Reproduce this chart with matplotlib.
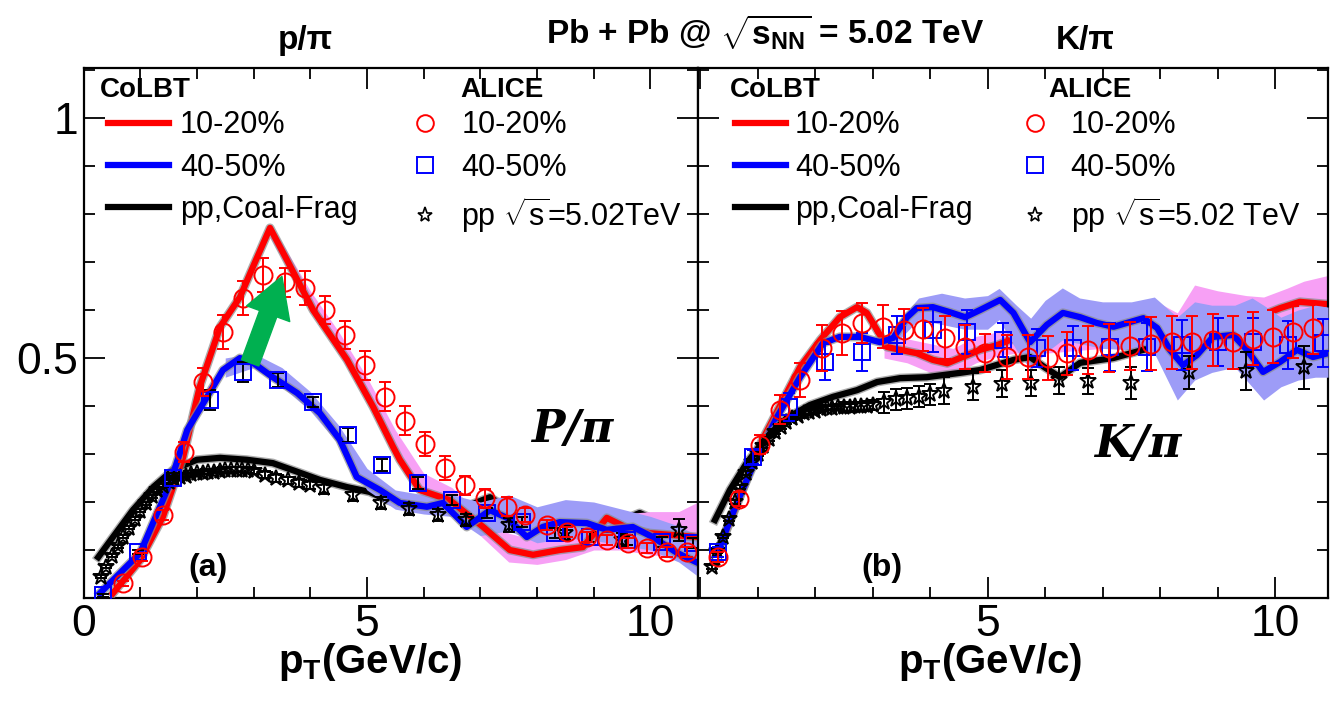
import numpy as np
import matplotlib
matplotlib.use("Agg")
import matplotlib.pyplot as plt
from matplotlib.lines import Line2D
import matplotlib.patheffects as pe

SANS = "Liberation Sans"
plt.rcParams["font.family"] = [SANS, "DejaVu Sans"]
plt.rcParams["mathtext.fontset"] = "custom"
plt.rcParams["mathtext.rm"] = SANS
plt.rcParams["mathtext.bf"] = SANS + ":bold"
plt.rcParams["mathtext.it"] = SANS + ":italic"

RED = "#ff0000"
BLUE = "#0000ff"
PINK = "#f7a0f5"
LBLUE = "#9d9cf7"
GREEN = "#00b050"

# ---------------- panel (a): p/pi ----------------
# CoLBT curves
pa_red_x = [0.52, 1.0, 1.40, 1.76, 2.05, 2.41, 2.76, 2.99, 3.29, 3.59, 4.05, 4.65, 5.11, 5.46,
            5.58, 5.93, 6.46, 7.05, 7.52, 7.93, 8.40, 8.81, 9.23, 9.59, 9.99, 10.84]
pa_red_y = [0.010, 0.079, 0.169, 0.294, 0.44, 0.565, 0.627, 0.69, 0.771, 0.704, 0.60, 0.496, 0.398,
            0.315, 0.288, 0.225, 0.204, 0.148, 0.10, 0.09, 0.10, 0.106, 0.167, 0.146, 0.135, 0.127]
pa_blue_x = [0.29, 1.0, 1.53, 1.83, 2.18, 2.46, 2.76, 2.99, 3.34, 3.77, 4.17, 4.52, 4.82, 5.23, 5.58,
             6.06, 6.34, 6.76, 7.17, 7.47, 7.82, 8.10, 8.40, 8.88, 9.23, 9.69, 10.04, 10.47, 10.84]
pa_blue_y = [0.01, 0.094, 0.24, 0.35, 0.419, 0.475, 0.50, 0.49, 0.46, 0.427, 0.385, 0.33, 0.252,
             0.225, 0.198, 0.19, 0.198, 0.148, 0.183, 0.167, 0.127, 0.148, 0.158, 0.156, 0.142,
             0.148, 0.127, 0.094, 0.073]
pa_pp_x = [0.26, 0.52, 0.87, 1.23, 1.58, 2.0, 2.41, 2.88, 3.34, 3.77, 4.17, 4.65, 5.05, 5.35, 5.76,
           6.29, 6.82, 7.17, 7.52, 8.05, 8.58, 9.29, 9.81, 10.17, 10.84]
pa_pp_y = [0.085, 0.127, 0.183, 0.231, 0.267, 0.288, 0.292, 0.288, 0.281, 0.263, 0.246, 0.231, 0.221,
           0.204, 0.19, 0.183, 0.194, 0.21, 0.183, 0.163, 0.152, 0.152, 0.177, 0.158, 0.158]

# uncertainty bands
pa_pink_x = [3.3, 4.0, 4.5, 5.0, 5.5, 6.0, 6.5, 7.0, 7.5, 8.0, 8.5, 9.0, 9.5, 10.0, 10.5, 10.84]
pa_pink_lo = [0.75, 0.60, 0.51, 0.41, 0.30, 0.205, 0.185, 0.13, 0.075, 0.07, 0.08, 0.10, 0.10, 0.09, 0.085, 0.08]
pa_pink_hi = [0.78, 0.64, 0.555, 0.46, 0.35, 0.26, 0.23, 0.175, 0.135, 0.12, 0.14, 0.19, 0.175, 0.18, 0.18, 0.20]
pa_lblue_x = [2.5, 3.0, 3.5, 4.0, 4.5, 5.0, 5.5, 6.0, 6.5, 7.0, 7.5, 8.0, 8.5, 9.0, 9.5, 10.0, 10.5, 10.84]
pa_lblue_lo = [0.46, 0.48, 0.44, 0.39, 0.32, 0.225, 0.185, 0.175, 0.17, 0.13, 0.14, 0.115, 0.125, 0.12, 0.11, 0.10, 0.075, 0.045]
pa_lblue_hi = [0.50, 0.51, 0.48, 0.43, 0.36, 0.27, 0.225, 0.215, 0.215, 0.20, 0.215, 0.19, 0.205, 0.20, 0.185, 0.17, 0.15, 0.13]

# ALICE data
pa_c_x = [0.70, 1.03, 1.40, 1.77, 2.11, 2.46, 2.81, 3.17, 3.55, 3.91, 4.26, 4.61, 4.96, 5.32, 5.67,
          6.02, 6.38, 6.73, 7.08, 7.47, 7.79, 8.17, 8.53, 8.88, 9.23, 9.60, 9.94, 10.29, 10.64]
pa_c_y = [0.031, 0.085, 0.173, 0.304, 0.45, 0.554, 0.625, 0.673, 0.658, 0.646, 0.60, 0.548, 0.485,
          0.419, 0.369, 0.321, 0.271, 0.235, 0.208, 0.19, 0.173, 0.152, 0.1375, 0.127, 0.121, 0.115,
          0.104, 0.096, 0.096]
pa_c_e = [0.005, 0.008, 0.01, 0.02, 0.03, 0.035, 0.035, 0.035, 0.03, 0.035, 0.03, 0.03, 0.03, 0.03,
          0.03, 0.025, 0.025, 0.02, 0.02, 0.02, 0.015, 0.01, 0.01, 0.01, 0.01, 0.01, 0.01, 0.01, 0.01]
pa_s_x = [0.34, 0.96, 1.58, 2.23, 2.81, 3.43, 4.05, 4.66, 5.26, 5.90, 6.50, 7.12, 7.73, 8.32, 8.93,
          9.59, 10.20, 10.75]
pa_s_y = [0.006, 0.096, 0.25, 0.4125, 0.471, 0.454, 0.408, 0.34, 0.277, 0.24, 0.204, 0.177, 0.158,
          0.135, 0.127, 0.121, 0.117, 0.115]
pa_s_e = [0.003, 0.005, 0.01, 0.02, 0.02, 0.015, 0.01, 0.015, 0.012, 0.012, 0.01, 0.01, 0.01, 0.01,
          0.01, 0.01, 0.01, 0.01]
pa_st_x = [0.3, 0.4, 0.5, 0.6, 0.7, 0.8, 0.9, 1.0, 1.1, 1.2, 1.3, 1.4, 1.5, 1.6, 1.7, 1.8, 1.9, 2.0,
           2.1, 2.2, 2.3, 2.4, 2.5, 2.6, 2.7, 2.8, 2.9, 3.0, 3.2, 3.4, 3.6, 3.8, 4.0, 4.25, 4.75,
           5.25, 5.75, 6.25, 6.75, 7.5, 8.5, 9.5, 10.5]
pa_st_y = [0.044, 0.065, 0.088, 0.108, 0.128, 0.146, 0.165, 0.182, 0.197, 0.212, 0.224, 0.234, 0.242,
           0.248, 0.252, 0.255, 0.258, 0.26, 0.261, 0.262, 0.263, 0.265, 0.266, 0.267, 0.267, 0.267,
           0.266, 0.264, 0.257, 0.25, 0.245, 0.240, 0.236, 0.229, 0.215, 0.198, 0.185, 0.173, 0.162,
           0.152, 0.135, 0.121, 0.142]
pa_st_e = [0.003] * 22 + [0.005] * 6 + [0.008] * 5 + [0.012] * 6 + [0.015] * 3 + [0.023]

# ---------------- panel (b): K/pi ----------------
pb_red_x = [0.3, 0.68, 1.04, 1.39, 1.74, 2.09, 2.43, 2.73, 2.9, 3.08, 3.25, 3.48, 3.77, 4.05, 4.30,
            4.52, 4.87, 5.17, 5.39, 6.0, 6.6, 7.2, 7.8, 8.3, 8.57, 8.82, 9.04, 9.39, 9.69, 10.09,
            10.43, 10.92]
pb_red_y = [0.094, 0.206, 0.319, 0.40, 0.481, 0.5375, 0.585, 0.606, 0.594, 0.558, 0.523, 0.517, 0.51,
            0.496, 0.489, 0.50, 0.517, 0.527, 0.5375, 0.545, 0.55, 0.555, 0.56, 0.565, 0.579, 0.60,
            0.59, 0.573, 0.585, 0.604, 0.617, 0.612]
pb_blue_x = [0.3, 0.64, 0.99, 1.34, 1.74, 2.14, 2.43, 2.78, 3.13, 3.36, 3.60, 3.77, 4.05, 4.33, 4.61,
             4.87, 5.22, 5.45, 5.74, 6.03, 6.31, 6.61, 6.90, 7.19, 7.48, 7.71, 7.95, 8.17, 8.40, 8.64,
             8.92, 9.27, 9.51, 9.79, 10.09, 10.38, 10.66, 10.92]
pb_blue_y = [0.094, 0.198, 0.294, 0.377, 0.46, 0.531, 0.544, 0.544, 0.533, 0.542, 0.585, 0.604,
             0.606, 0.596, 0.585, 0.60, 0.621, 0.594, 0.533, 0.569, 0.594, 0.585, 0.573, 0.565,
             0.575, 0.583, 0.5625, 0.517, 0.485, 0.506, 0.544, 0.548, 0.517, 0.471, 0.492, 0.517,
             0.502, 0.51]
pb_pp_x = [0.26, 0.52, 0.81, 1.16, 1.51, 1.91, 2.31, 2.73, 3.08, 3.48, 3.94, 4.52, 4.87, 5.45, 5.74,
           6.0, 6.26, 6.61, 7.19, 7.71]
pb_pp_y = [0.1625, 0.225, 0.281, 0.335, 0.375, 0.402, 0.419, 0.433, 0.45, 0.458, 0.46, 0.469, 0.475,
           0.496, 0.502, 0.48, 0.46, 0.49, 0.50, 0.517]

pb_pink_x = [3.2, 3.6, 4.0, 4.4, 4.8, 5.2, 5.5, 6.0, 6.5, 7.0, 7.5, 7.9, 8.3, 8.6, 9.0, 9.5, 9.8,
             10.2, 10.5, 10.92]
pb_pink_lo = [0.50, 0.49, 0.47, 0.465, 0.49, 0.505, 0.51, 0.51, 0.515, 0.52, 0.52, 0.52, 0.52, 0.53,
              0.53, 0.52, 0.53, 0.54, 0.55, 0.55]
pb_pink_hi = [0.54, 0.54, 0.53, 0.52, 0.545, 0.555, 0.565, 0.575, 0.585, 0.60, 0.61, 0.62, 0.594,
              0.652, 0.64, 0.63, 0.627, 0.645, 0.66, 0.672]
pb_lblue_x = [3.4, 3.8, 4.2, 4.6, 5.0, 5.2, 5.5, 5.75, 6.0, 6.3, 6.6, 7.0, 7.5, 7.9, 8.3, 8.6, 8.9,
              9.3, 9.6, 9.8, 10.1, 10.4, 10.7, 10.92]
pb_lblue_lo = [0.53, 0.58, 0.57, 0.56, 0.56, 0.58, 0.517, 0.475, 0.51, 0.5375, 0.53, 0.52, 0.517,
               0.51, 0.4125, 0.454, 0.47, 0.481, 0.44, 0.4125, 0.44, 0.454, 0.46, 0.46]
pb_lblue_hi = [0.57, 0.625, 0.635, 0.625, 0.63, 0.645, 0.61, 0.583, 0.62, 0.646, 0.625, 0.617, 0.617,
               0.627, 0.585, 0.617, 0.61, 0.61, 0.625, 0.61, 0.585, 0.60, 0.61, 0.606]

pb_c_x = [0.31, 0.68, 1.04, 1.39, 1.74, 2.12, 2.47, 2.82, 3.18, 3.55, 3.88, 4.26, 4.61, 4.96, 5.34,
          5.70, 6.05, 6.38, 6.75, 7.12, 7.48, 7.85, 8.21, 8.56, 8.92, 9.27, 9.62, 9.97, 10.31, 10.66]
pb_c_y = [0.085, 0.206, 0.319, 0.392, 0.454, 0.521, 0.552, 0.573, 0.565, 0.558, 0.56, 0.542, 0.523,
          0.51, 0.502, 0.502, 0.50, 0.51, 0.517, 0.52, 0.525, 0.53, 0.533, 0.533, 0.5375, 0.533,
          0.54, 0.544, 0.554, 0.5625]
pb_c_e = [0.01, 0.015, 0.02, 0.03, 0.035, 0.048, 0.045, 0.042, 0.045, 0.045, 0.045, 0.045, 0.045,
          0.04, 0.045, 0.045, 0.045, 0.045, 0.05, 0.05, 0.05, 0.055, 0.055, 0.055, 0.055, 0.055,
          0.055, 0.055, 0.055, 0.055]
pb_s_x = [0.31, 0.92, 1.55, 2.17, 2.82, 3.42, 4.05, 4.64, 5.27, 5.86, 6.49, 7.13, 7.77, 8.38, 9.01,
          9.62, 10.23, 10.84]
pb_s_y = [0.096, 0.294, 0.398, 0.492, 0.5125, 0.548, 0.558, 0.554, 0.5375, 0.521, 0.521, 0.523,
          0.523, 0.527, 0.533, 0.533, 0.527, 0.531]
pb_s_e = [0.01, 0.015, 0.03, 0.038, 0.04, 0.04, 0.045, 0.045, 0.035, 0.04, 0.045, 0.05, 0.05, 0.052,
          0.05, 0.05, 0.05, 0.05]
pb_st_x = [0.2, 0.3, 0.4, 0.5, 0.6, 0.7, 0.8, 0.9, 1.0, 1.1, 1.2, 1.3, 1.4, 1.5, 1.6, 1.7, 1.8, 1.9,
           2.0, 2.1, 2.2, 2.3, 2.4, 2.5, 2.6, 2.7, 2.8, 2.9, 3.0, 3.2, 3.4, 3.6, 3.8, 4.0, 4.25,
           4.75, 5.25, 5.75, 6.25, 6.75, 7.5, 8.5, 9.5, 10.5]
pb_st_y = [0.065, 0.098, 0.128, 0.165, 0.20, 0.231, 0.26, 0.283, 0.30, 0.316, 0.332, 0.346, 0.357,
           0.366, 0.374, 0.38, 0.385, 0.388, 0.39, 0.393, 0.395, 0.396, 0.397, 0.398, 0.398, 0.399,
           0.399, 0.40, 0.402, 0.408, 0.414, 0.416, 0.419, 0.424, 0.432, 0.44, 0.446, 0.448, 0.454,
           0.452, 0.448, 0.47, 0.473, 0.481]
pb_st_e = [0.004] * 23 + [0.01] * 6 + [0.022] * 5 + [0.028] * 6 + [0.033, 0.035, 0.04, 0.045]

ARROW_FROM = (2.94, 0.49)
ARROW_TO = (3.5, 0.67)

W, H = 1338, 703
fig = plt.figure(figsize=(W / 100, H / 100), dpi=100)
ax1 = fig.add_axes([83.5 / W, 1 - 598 / H, 614.5 / W, 530 / H])
ax2 = fig.add_axes([698 / W, 1 - 598 / H, 630 / W, 530 / H])
ax1.set_xlim(0, 10.84)
ax2.set_xlim(-0.035, 10.92)

halo = [pe.Stroke(linewidth=6.5, foreground="#8a8a8a", alpha=0.7), pe.Normal()]


def draw_points(ax, x, y, e, marker, color, ecolor, ms, z):
    ax.errorbar(x, y, yerr=e, fmt="none", ecolor=ecolor, elinewidth=1.4,
                capsize=4, capthick=1.4, zorder=z)
    ax.plot(x, y, ls="none", marker=marker, ms=ms, mfc="none", mec=color,
            mew=1.4, zorder=z + 0.1)


# panel (a)
ax1.plot(pa_pp_x, pa_pp_y, color="black", lw=4.5, path_effects=halo, zorder=1)
ax1.fill_between(pa_pink_x, pa_pink_lo, pa_pink_hi, color=PINK, lw=0, zorder=2)
ax1.fill_between(pa_lblue_x, pa_lblue_lo, pa_lblue_hi, color=LBLUE, lw=0, zorder=3)
ax1.plot(pa_red_x, pa_red_y, color=RED, lw=4.5, path_effects=halo, zorder=4,
         solid_joinstyle="round")
ax1.plot(pa_blue_x, pa_blue_y, color=BLUE, lw=4.5, path_effects=halo, zorder=5,
         solid_joinstyle="round")
draw_points(ax1, pa_st_x, pa_st_y, pa_st_e, "*", "black", "black", 12, 6)
draw_points(ax1, pa_s_x, pa_s_y, pa_s_e, "s", BLUE, "black", 12, 7)
draw_points(ax1, pa_c_x, pa_c_y, pa_c_e, "o", RED, RED, 13, 8)
ax1.annotate("", xy=ARROW_TO, xytext=ARROW_FROM, zorder=9,
             arrowprops=dict(arrowstyle="simple,head_width=1.5,head_length=1.3,tail_width=0.6",
                             color=GREEN, mutation_scale=22, shrinkA=0, shrinkB=0))

# panel (b)
ax2.fill_between(pb_pink_x, pb_pink_lo, pb_pink_hi, color=PINK, lw=0, zorder=1)
ax2.plot(pb_red_x, pb_red_y, color=RED, lw=4.5, path_effects=halo, zorder=2,
         solid_joinstyle="round")
ax2.fill_between(pb_lblue_x, pb_lblue_lo, pb_lblue_hi, color=LBLUE, lw=0, zorder=3)
ax2.plot(pb_blue_x, pb_blue_y, color=BLUE, lw=4.5, path_effects=halo, zorder=4,
         solid_joinstyle="round")
ax2.plot(pb_pp_x, pb_pp_y, color="black", lw=4.5, path_effects=halo, zorder=5)
draw_points(ax2, pb_st_x, pb_st_y, pb_st_e, "*", "black", "black", 12, 6)
draw_points(ax2, pb_s_x, pb_s_y, pb_s_e, "s", BLUE, BLUE, 12, 7)
draw_points(ax2, pb_c_x, pb_c_y, pb_c_e, "o", RED, RED, 13, 8)

for ax in (ax1, ax2):
    ax.set_ylim(0, 530 / 480)
    ax.set_xticks([0, 5, 10])
    ax.set_xticks(np.arange(0, 11, 1), minor=True)
    ax.set_yticks([0, 0.5, 1.0])
    ax.set_yticks(np.arange(0, 1.11, 0.1), minor=True)
    ax.tick_params(which="both", direction="in", top=True, right=True, width=1.3)
    ax.tick_params(which="major", length=15)
    ax.tick_params(which="minor", length=8)
    ax.tick_params(axis="both", labelsize=32, pad=4)
    for s in ax.spines.values():
        s.set_linewidth(1.6)

ax1.set_xticklabels(["0", "5", "10"])
ax1.set_yticklabels(["", "0.5", "1"])
ax2.set_xticklabels(["", "5", "10"])
ax2.set_yticklabels([])

# legends
FS = 22
line_h = [Line2D([], [], color=c, lw=4.5) for c in (RED, BLUE, "black")]
line_l = ["10-20%", "40-50%", "pp,Coal-Frag"]
mk_h = [Line2D([], [], ls="none", marker="o", ms=12, mfc="none", mec=RED, mew=1.4),
        Line2D([], [], ls="none", marker="s", ms=11, mfc="none", mec=BLUE, mew=1.4),
        Line2D([], [], ls="none", marker="*", ms=11, mfc="none", mec="black", mew=1.2)]

specs = [
    (ax1, 0.040, 2.0, 0.35, 0.531, 0.68, "pp $\\sqrt{\\mathrm{s}}$=5.02TeV", 0.027, 0.613),
    (ax2, 0.059, 1.65, 0.30, 0.510, 0.68, "pp $\\sqrt{\\mathrm{s}}$=5.02 TeV", 0.051, 0.556),
]
for ax, lx, hl, hp, mx, mp, pplab, tx1, tx2 in specs:
    leg1 = ax.legend(line_h, line_l, loc="upper left", bbox_to_anchor=(lx, 0.92),
                     frameon=False, fontsize=FS, handlelength=hl, handletextpad=hp,
                     borderpad=0, borderaxespad=0, labelspacing=0.4)
    ax.add_artist(leg1)
    ax.legend(mk_h, ["10-20%", "40-50%", pplab], loc="upper left",
              bbox_to_anchor=(mx, 0.92), frameon=False, fontsize=FS, handlelength=1.0,
              handletextpad=mp, borderpad=0, borderaxespad=0, labelspacing=0.4)
    ax.text(tx1, 0.958, "CoLBT", transform=ax.transAxes, fontsize=20, fontweight="bold",
            ha="left", va="center")
    ax.text(tx2, 0.958, "ALICE", transform=ax.transAxes, fontsize=20, fontweight="bold",
            ha="left", va="center")

# panel labels
for ax, px, py, lab in ((ax1, 0.795, 0.317, "P/\u03c0"), (ax2, 0.698, 0.289, "K/\u03c0")):
    ax.text(px, py, lab, transform=ax.transAxes, fontsize=32, ha="center", va="center",
            family="DejaVu Serif", style="italic", fontweight="bold")
ax1.text(0.203, 0.057, "(a)", transform=ax1.transAxes, fontsize=23, fontweight="bold",
         ha="center", va="center")
ax2.text(0.292, 0.057, "(b)", transform=ax2.transAxes, fontsize=23, fontweight="bold",
         ha="center", va="center")

# titles and axis labels
fig.text(305 / W, 1 - 40 / H, "p/\u03c0", fontsize=24, fontweight="bold", ha="center", va="center")
fig.text(1085 / W, 1 - 40 / H, "K/\u03c0", fontsize=24, fontweight="bold", ha="center", va="center")
fig.text(765 / W, 1 - 32 / H, "Pb + Pb @ $\\sqrt{\\mathbf{s}_{\\mathbf{NN}}}$ = 5.02 TeV",
         fontsize=24, fontweight="bold", ha="center", va="center")
for cx in (370, 990):
    fig.text(cx / W, 1 - 662 / H, "p$_{\\mathbf{T}}$(GeV/c)", fontsize=29, fontweight="bold",
             ha="center", va="center")

fig.savefig("out.png", dpi=100)
